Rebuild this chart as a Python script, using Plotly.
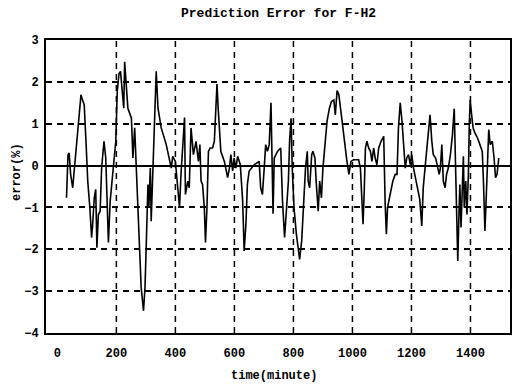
import plotly.graph_objects as go

TITLE = "Prediction Error for F-H2"
X_LABEL = "time(minute)"
Y_LABEL = "error(%)"

TIME = [31, 36, 40, 45, 52, 56, 65, 74, 80, 85, 91, 97, 103, 110, 116, 119, 125, 130, 134, 139,
        145, 150, 158, 164, 170, 173, 179, 187, 192, 198, 203, 209, 214, 220, 225, 228, 234, 239,
        251, 256, 262, 268, 273, 279, 284, 292, 297, 301, 307, 310, 315, 318, 324, 329, 335, 341,
        352, 369, 380, 386, 391, 400, 408, 414, 419, 425, 431, 434, 442, 447, 453, 461, 470, 478,
        483, 487, 492, 498, 502, 507, 512, 518, 526, 532, 538, 541, 545, 549, 554, 566, 577, 583,
        588, 594, 599, 605, 611, 620, 628, 633, 639, 644, 650, 667, 684, 689, 695, 701, 706, 712,
        718, 724, 727, 731, 735, 746, 757, 763, 770, 776, 783, 787, 792, 796, 802, 810, 817, 821,
        828, 836, 841, 847, 850, 855, 862, 866, 873, 877, 884, 889, 895, 900, 907, 914, 922, 929,
        937, 942, 948, 954, 965, 974, 980, 988, 995, 1004, 1021, 1027, 1032, 1036, 1040, 1044, 1049,
        1055, 1061, 1066, 1072, 1077, 1083, 1089, 1097, 1106, 1111, 1115, 1119, 1128, 1137, 1145,
        1151, 1156, 1162, 1168, 1173, 1179, 1184, 1190, 1196, 1201, 1207, 1218, 1228, 1235, 1240,
        1246, 1252, 1258, 1263, 1269, 1274, 1282, 1289, 1294, 1298, 1303, 1308, 1314, 1319, 1325,
        1332, 1339, 1345, 1350, 1353, 1357, 1361, 1364, 1368, 1372, 1376, 1379, 1384, 1388, 1393,
        1396, 1399, 1404, 1409, 1415, 1424, 1432, 1440, 1444, 1449, 1453, 1458, 1462, 1467, 1474,
        1480, 1485, 1490, 1496]

ERROR = [-0.77, 0.26, 0.30, -0.21, -0.53, -0.21, 0.58, 1.37, 1.69, 1.57, 1.45, 0.58, -0.37, -1.0,
         -1.72, -1.48, -0.77, -0.57, -1.96, -1.17, -1.09, -0.06, 0.58, 0.18, -1.0, -1.84, -0.85,
         -0.21, 0.14, 0.58, 1.77, 2.2, 2.25, 1.85, 1.37, 2.48, 1.77, 1.37, 1.13, 0.18, 0.9, -0.21,
         -1.0, -1.96, -2.91, -3.47, -2.91, -1.96, -0.45, -1.0, -0.06, -1.33, 0.02, 0.98, 2.25, 1.37,
         0.9, 0.5, 0.18, -0.06, 0.22, 0.1, -0.53, -1.0, -0.21, 0.58, 1.15, -0.69, -0.37, -0.53, 0.9,
         0.26, 0.58, 0.1, 0.5, -0.37, -0.45, -1.0, -1.84, -1.0, 0.34, 0.42, 0.42, 0.58, 1.37, 1.95,
         1.37, 0.98, 0.34, 0.1, -0.29, -0.06, 0.26, -0.13, 0.18, -0.06, 0.22, 0.02, -0.85, -2.04,
         -1.4, -0.45, -0.13, 0.02, 0.1, -0.53, -0.69, -0.06, 0.5, 0.34, 0.5, 1.5, -0.2, -1.15, 0.18,
         0.34, 0.42, -0.85, -1.72, -1.0, -0.37, 0.58, 1.13, -0.06, -1.0, -1.64, -2.04, -2.24, -1.8,
         -0.85, -0.06, 0.34, -0.37, -0.53, 0.26, 0.34, 0.18, -0.37, -1.09, -0.37, -0.77, -0.06, 0.58,
         1.06, 1.37, 1.53, 1.57, 1.21, 1.79, 1.69, 1.06, 0.5, 0.18, -0.21, 0.1, 0.14, 0.14, -0.06,
         -0.77, -1.4, -0.61, 0.42, 0.58, 0.42, 0.34, 0.1, 0.42, 0.18, 0.02, 0.42, 0.58, 0.7, -0.93,
         -1.64, -1.0, -0.69, -0.37, -0.21, -0.21, 0.9, 1.5, 1.06, 0.58, -0.06, 0.18, 0.26, 0.02, 0.26,
         -0.06, -0.45, -0.8, -1.44, -0.53, -0.06, 0.42, 0.9, 1.21, 0.58, 0.26, 0.18, -0.06, -0.21,
         -0.06, 0.5, -0.37, -0.53, -0.21, -0.06, 0.26, 0.74, 1.36, -0.06, -1.0, -2.28, -1.17, -0.45,
         -1.48, -0.69, 0.22, -1.0, -0.37, -1.17, -0.21, 0.98, 1.57, 1.21, 0.9, 0.78, 0.66, 0.5, 0.34,
         -0.37, -1.56, -0.85, 0.18, 0.86, 0.5, 0.58, 0.18, -0.29, -0.21, 0.18]

X_TICKS = [0, 200, 400, 600, 800, 1000, 1200, 1400]
X_GRID = [200, 400, 600, 800, 1000, 1200, 1400]
Y_TICKS = [-4, -3, -2, -1, 0, 1, 2, 3]

FONT = "Liberation Mono"

fig = go.Figure()
fig.add_trace(go.Scatter(x=TIME, y=ERROR, mode="lines",
                         line=dict(color="black", width=1.6), showlegend=False))

shapes = []
for gx in X_GRID:
    shapes.append(dict(type="line", xref="x", yref="paper", x0=gx, x1=gx, y0=0, y1=1,
                       line=dict(color="black", width=1.5, dash="6px,5px"), layer="below"))

fig.update_layout(
    width=515, height=387,
    margin=dict(l=46, r=3, t=40, b=54),
    paper_bgcolor="white", plot_bgcolor="white",
    shapes=shapes,
    font=dict(family=FONT, color="black"),
    xaxis=dict(range=[-38.5, 1534], tickvals=X_TICKS, showgrid=False, zeroline=False,
               showline=True, mirror=True, linecolor="black", linewidth=2,
               ticks="outside", ticklen=0, ticklabelstandoff=8,
               tickfont=dict(family=FONT, size=12, weight="bold")),
    yaxis=dict(range=[-4, 3], tickvals=Y_TICKS, showgrid=True, gridcolor="black",
               gridwidth=1.5, griddash="6px,5px",
               zeroline=True, zerolinecolor="black", zerolinewidth=1.5,
               showline=True, mirror=True, linecolor="black", linewidth=2,
               ticks="outside", ticklen=0, ticklabelstandoff=3,
               tickfont=dict(family=FONT, size=12, weight="bold")),
    annotations=[
        dict(text=TITLE, xref="paper", yref="paper", x=0.502, y=1.092,
             xanchor="center", yanchor="middle", showarrow=False,
             font=dict(family=FONT, size=13, weight="bold")),
        dict(text=X_LABEL, xref="paper", yref="paper", x=0.491, y=-0.147,
             xanchor="center", yanchor="middle", showarrow=False,
             font=dict(family=FONT, size=12, weight="bold")),
        dict(text=Y_LABEL, xref="paper", yref="paper", x=-0.0622, y=0.55,
             xanchor="center", yanchor="middle", showarrow=False, textangle=-90,
             font=dict(family=FONT, size=12, weight="bold")),
    ],
)

fig.write_html("out.html", config={"displayModeBar": False})

with open("out.html", "r", encoding="utf-8") as f:
    html = f.read()
html = html.replace("<head>", "<head><style>html,body{margin:0;padding:0;overflow:hidden;}</style>", 1)
with open("out.html", "w", encoding="utf-8") as f:
    f.write(html)
